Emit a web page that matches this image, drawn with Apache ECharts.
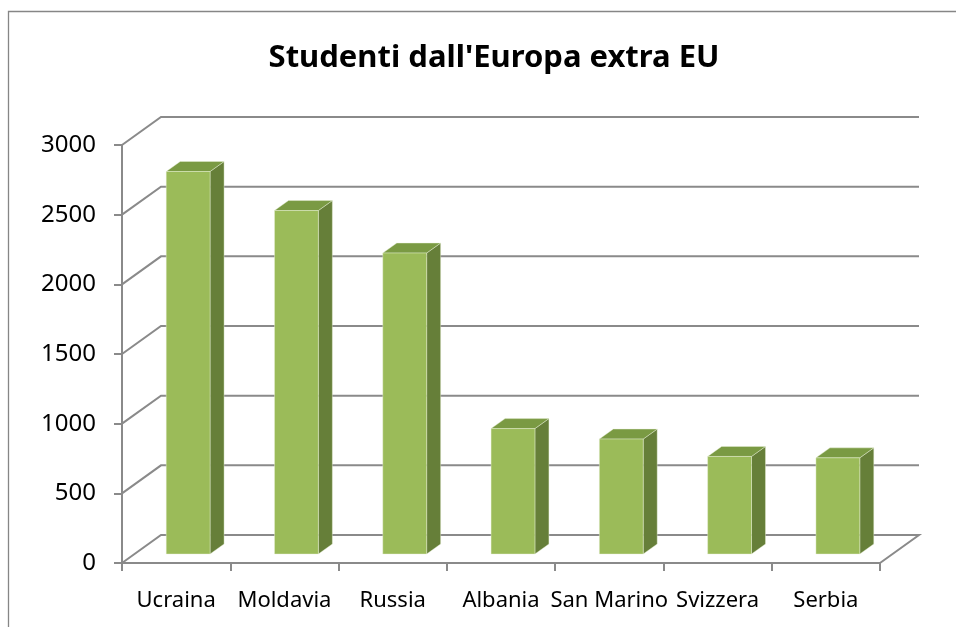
<!DOCTYPE html>
<html>
<head>
<meta charset="utf-8">
<script src="https://cdn.jsdelivr.net/npm/echarts@6/dist/echarts.min.js"></script>
<style>
html,body{margin:0;padding:0;background:#fff;}
#main{width:956px;height:627px;}
</style>
</head>
<body>
<div id="main"></div>
<script>
var titleText = "Studenti dall'Europa extra EU";
var categories = ['Ucraina', 'Moldavia', 'Russia', 'Albania', 'San Marino', 'Svizzera', 'Serbia'];
var values = [2745, 2465, 2160, 900, 825, 700, 690];
var yTicks = [0, 500, 1000, 1500, 2000, 2500, 3000];

var DEPTH_DX = 39, DEPTH_DY = -28;       // wall depth
var BAR_OX = 12, BAR_OY = -9;            // bar front plane offset
var BAR_DX = 14, BAR_DY = -10;           // bar depth
var GRID_COLOR = '#8a8a8a';

var chart = echarts.init(document.getElementById('main'), null, {renderer: 'canvas'});

function gridRender(params, api) {
  var cs = params.coordSys;
  var v = api.value(1);
  var y = api.coord([0, v])[1];
  var xl = cs.x, xr = cs.x + cs.width;
  var pts = [[xl, y], [xl + DEPTH_DX, y + DEPTH_DY], [xr + DEPTH_DX, y + DEPTH_DY]];
  if (v === yTicks[0]) pts.push([xr, y]);
  return {
    type: 'polyline',
    shape: {points: pts},
    style: {stroke: GRID_COLOR, lineWidth: 2, fill: null},
    silent: true
  };
}

function barRender(params, api) {
  var i = api.value(0), v = api.value(1);
  var p0 = api.coord([i, 0]);
  var p1 = api.coord([i, v]);
  var w = api.size([1, 0])[0] * 0.405;
  var xl = p0[0] + BAR_OX - w / 2, xr = xl + w;
  var yb = p0[1] + BAR_OY, yt = p1[1] + BAR_OY;
  var edge = 'rgba(235,242,220,0.7)';
  return {
    type: 'group',
    children: [
      {type: 'polygon', shape: {points: [[xr, yt], [xr + BAR_DX, yt + BAR_DY], [xr + BAR_DX, yb + BAR_DY], [xr, yb]]},
       style: {fill: '#667f39', stroke: edge, lineWidth: 0.6}},
      {type: 'polygon', shape: {points: [[xl, yt], [xl + BAR_DX, yt + BAR_DY], [xr + BAR_DX, yt + BAR_DY], [xr, yt]]},
       style: {fill: '#7a9a43', stroke: edge, lineWidth: 0.6}},
      {type: 'rect', shape: {x: xl, y: yt, width: w, height: yb - yt},
       style: {fill: '#9bbb59', stroke: edge, lineWidth: 0.6}}
    ]
  };
}

chart.setOption({
  animation: false,
  backgroundColor: '#fff',
  title: {
    text: titleText,
    left: 489,
    top: 38,
    textAlign: 'center',
    textStyle: {fontFamily: 'Noto Sans', fontWeight: 'bold', fontSize: 31, color: '#000'}
  },
  graphic: [{
    type: 'rect',
    shape: {x: 8.5, y: 11.5, width: 1000, height: 1000},
    style: {fill: null, stroke: '#868686', lineWidth: 1.3},
    silent: true, z: -10
  }],
  grid: {left: 122, right: 76, top: 145, bottom: 64},
  xAxis: {
    type: 'category',
    data: categories,
    boundaryGap: true,
    axisLine: {show: true, lineStyle: {color: GRID_COLOR, width: 2}},
    axisTick: {show: true, interval: 0, length: 8, lineStyle: {color: GRID_COLOR, width: 2}},
    axisLabel: {interval: 0, margin: 27, fontFamily: 'Noto Sans', fontSize: 22, color: '#000'},
    splitLine: {show: false}
  },
  yAxis: {
    type: 'value',
    min: 0, max: 3000, interval: 500,
    axisLine: {show: true, lineStyle: {color: GRID_COLOR, width: 2}},
    axisTick: {show: true, length: 8, lineStyle: {color: GRID_COLOR, width: 2}},
    axisLabel: {margin: 26, fontFamily: 'Noto Sans', fontSize: 24, color: '#000',
      formatter: function (v) { return String(v); }},
    splitLine: {show: false}
  },
  series: [
    {
      type: 'custom',
      renderItem: gridRender,
      data: yTicks.map(function (v) { return [0, v]; }),
      z: 1, silent: true
    },
    {
      type: 'custom',
      renderItem: barRender,
      data: categories.map(function (c, i) { return [i, values[i]]; }),
      z: 3
    }
  ]
});
</script>
</body>
</html>
